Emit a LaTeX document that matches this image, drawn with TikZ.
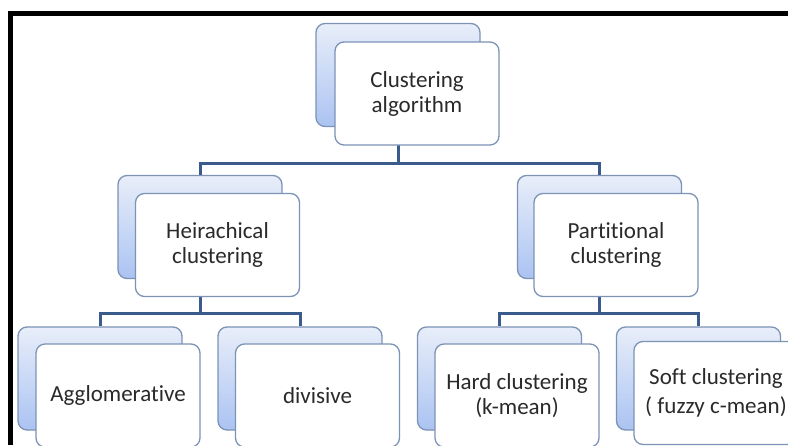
\documentclass[tikz,border=0pt]{standalone}
\usepackage{fontspec}
\setmainfont[Ligatures=NoCommon]{Carlito}
\definecolor{connc}{HTML}{3B5B8C}
\definecolor{bdr}{HTML}{7C93B6}
\definecolor{backtop}{HTML}{E8EEF9}
\definecolor{backbot}{HTML}{ABC3F2}
\definecolor{txt}{HTML}{2A2A2A}
\tikzset{
  backbox/.style={draw=bdr, line width=1.3pt, rounded corners=9pt,
    top color=backtop, bottom color=backbot,
    minimum width=164pt, minimum height=103pt, inner sep=0pt},
  frontbox/.style={draw=bdr, line width=1.3pt, rounded corners=9pt,
    fill=white, text=txt,
    minimum width=164pt, minimum height=103pt, inner sep=0pt,
    align=center, font=\fontsize{23}{25}\selectfont},
  connline/.style={draw=connc, line width=3pt}
}
\begin{document}
\begin{tikzpicture}[x=1pt,y=-1pt]
\useasboundingbox (0,0) rectangle (788,445);
\fill[white] (0,0) rectangle (788,445);
\clip (0,0) rectangle (788,445);
% back boxes
\node[backbox] (tb) at (398,75) {};
\node[backbox] (lb) at (200,227) {};
\node[backbox] (rb) at (599.5,227) {};
\node[backbox] (b1) at (100,378.5) {};
\node[backbox] (b2) at (300,378.5) {};
\node[backbox] (b3) at (499.5,378.5) {};
\node[backbox] (b4) at (698.5,378.5) {};
% junction levels
\coordinate (h1) at (0,163);
\coordinate (h2) at (0,313);
% connectors
\draw[connline] (tb.south) -- (tb.south |- h1) -| (lb.north);
\draw[connline] (tb.south |- h1) -| (rb.north);
\draw[connline] (lb.south) -- (lb.south |- h2) -| (b1.north);
\draw[connline] (lb.south |- h2) -| (b2.north);
\draw[connline] (rb.south) -- (rb.south |- h2) -| (b3.north);
\draw[connline] (rb.south |- h2) -| (b4.north);
% front boxes
\node[frontbox] (tf) at (417,93.5) {Clustering\\algorithm};
\node[frontbox] (lf) at (217.5,245) {Heirachical\\clustering};
\node[frontbox] (rf) at (616,245) {Partitional\\clustering};
\node[frontbox] (f1) at (118,395.5) {Agglomerative};
\node[frontbox] (f2) at (317.5,395.5) {divisive};
\node[frontbox] (f3) at (517,395.5) {Hard clustering\\(k-mean)};
\node[frontbox] (f4) at (716,393) {Soft clustering\\[4pt]( fuzzy c-mean)};
% frame
\draw[line width=4.5pt] (10.5,445) -- (10.5,13.5) -- (788,13.5);
\end{tikzpicture}
\end{document}
